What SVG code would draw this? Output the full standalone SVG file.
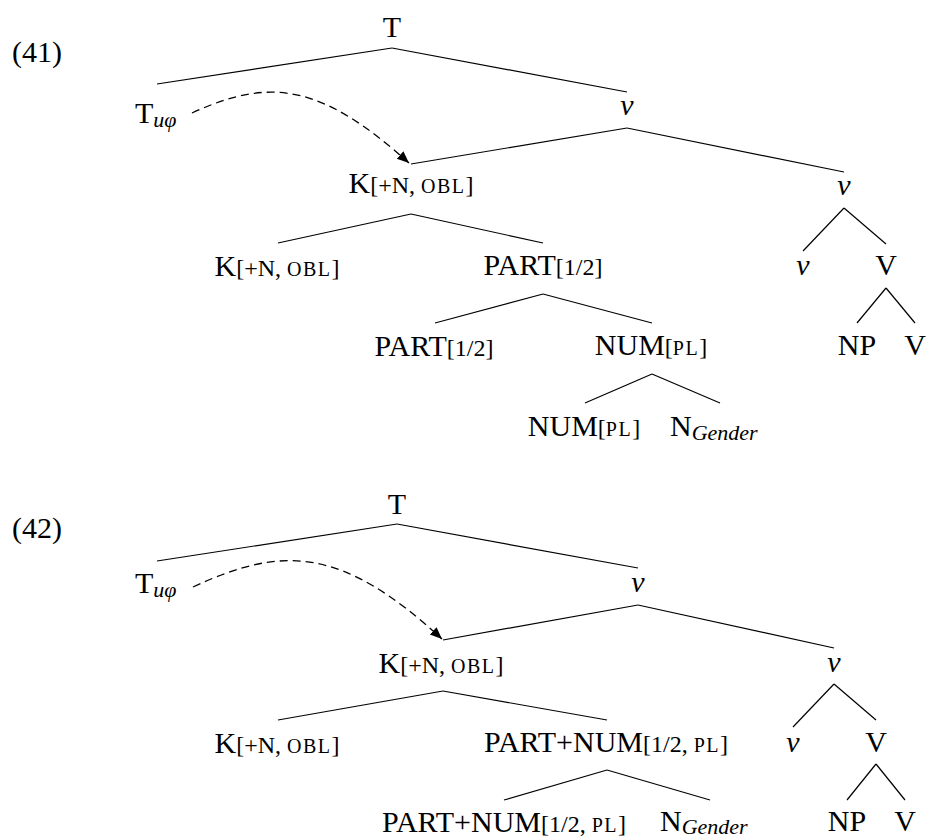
<svg xmlns="http://www.w3.org/2000/svg" width="926" height="838" viewBox="0 0 926 838" font-family="Liberation Serif">
<style>
text{font-size:30px;fill:#000}
.m{text-anchor:middle}
.i{font-style:italic}
.s{font-size:24px}
.sc{font-size:20px;letter-spacing:1.5px}
.sub{font-size:22px;font-style:italic}
.e line{stroke:#000;stroke-width:1.2;fill:none}
.arc{stroke:#000;stroke-width:1.3;fill:none;stroke-dasharray:8 5}
</style>
<defs>
<marker id="ah" markerUnits="userSpaceOnUse" markerWidth="14" markerHeight="12" refX="12" refY="5" orient="auto">
<path d="M0,0 L12,5 L0,10 Z" fill="#000"/>
</marker>
</defs>
<rect width="926" height="838" fill="#fff"/>
<g id="ex41"><text x="12" y="62" font-family="Liberation Serif">(41)</text></g>
<g id="ex42"><text x="12" y="538" font-family="Liberation Serif">(42)</text></g>

<!-- Tree 41 nodes -->
<g id="t1-T"><text class="m" x="392" y="37">T</text></g>
<g id="t1-Tu"><text x="135" y="123">T<tspan class="sub" dy="4">uφ</tspan></text></g>
<g id="t1-v1"><text class="m i" x="627" y="115">v</text></g>
<g id="t1-K"><text class="m" x="411" y="193">K<tspan class="s">[+N, </tspan><tspan class="sc">OBL</tspan><tspan class="s">]</tspan></text></g>
<g id="t1-v2"><text class="m i" x="844" y="195">v</text></g>
<g id="t1-K2"><text class="m" x="277" y="276">K<tspan class="s">[+N, </tspan><tspan class="sc">OBL</tspan><tspan class="s">]</tspan></text></g>
<g id="t1-PART"><text class="m" x="543" y="275">PART<tspan class="s">[1/2]</tspan></text></g>
<g id="t1-v3"><text class="m i" x="803" y="275">v</text></g>
<g id="t1-V"><text class="m" x="886" y="275">V</text></g>
<g id="t1-PART2"><text class="m" x="434" y="356">PART<tspan class="s">[1/2]</tspan></text></g>
<g id="t1-NUM"><text class="m" x="651" y="355">NUM<tspan class="s">[</tspan><tspan class="sc">PL</tspan><tspan class="s">]</tspan></text></g>
<g id="t1-NP"><text class="m" x="857" y="355">NP</text></g>
<g id="t1-V2"><text class="m" x="915" y="355">V</text></g>
<g id="t1-NUM2"><text class="m" x="584" y="436">NUM<tspan class="s">[</tspan><tspan class="sc">PL</tspan><tspan class="s">]</tspan></text></g>
<g id="t1-N"><text x="670" y="436">N<tspan class="sub" dy="4">Gender</tspan></text></g>

<!-- Tree 42 nodes -->
<g id="t2-T"><text class="m" x="397" y="514">T</text></g>
<g id="t2-Tu"><text x="135" y="593">T<tspan class="sub" dy="4">uφ</tspan></text></g>
<g id="t2-v1"><text class="m i" x="638" y="592">v</text></g>
<g id="t2-K"><text class="m" x="441" y="673">K<tspan class="s">[+N, </tspan><tspan class="sc">OBL</tspan><tspan class="s">]</tspan></text></g>
<g id="t2-v2"><text class="m i" x="834" y="672">v</text></g>
<g id="t2-K2"><text class="m" x="277" y="753">K<tspan class="s">[+N, </tspan><tspan class="sc">OBL</tspan><tspan class="s">]</tspan></text></g>
<g id="t2-PN"><text class="m" x="606" y="752">PART+NUM<tspan class="s">[1/2, </tspan><tspan class="sc">PL</tspan><tspan class="s">]</tspan></text></g>
<g id="t2-v3"><text class="m i" x="793" y="752">v</text></g>
<g id="t2-V"><text class="m" x="876" y="752">V</text></g>
<g id="t2-PN2"><text class="m" x="504" y="832">PART+NUM<tspan class="s">[1/2, </tspan><tspan class="sc">PL</tspan><tspan class="s">]</tspan></text></g>
<g id="t2-N"><text x="660" y="831">N<tspan class="sub" dy="3">Gender</tspan></text></g>
<g id="t2-NP"><text class="m" x="847" y="831">NP</text></g>
<g id="t2-V2"><text class="m" x="905" y="831">V</text></g>

<g id="connectors" class="e">
<line x1="392" y1="48" x2="157" y2="84"/>
<line x1="392" y1="48" x2="627" y2="92"/>
<line x1="627" y1="128" x2="411" y2="164"/>
<line x1="627" y1="128" x2="844" y2="172"/>
<line x1="411" y1="214" x2="278" y2="243"/>
<line x1="411" y1="214" x2="543" y2="243"/>
<line x1="844" y1="208" x2="803" y2="251"/>
<line x1="844" y1="208" x2="886" y2="244"/>
<line x1="543" y1="294" x2="435" y2="323"/>
<line x1="543" y1="294" x2="652" y2="323"/>
<line x1="886" y1="288" x2="857" y2="323"/>
<line x1="886" y1="288" x2="915" y2="323"/>
<line x1="652" y1="374" x2="585" y2="403"/>
<line x1="652" y1="374" x2="720" y2="403"/>

<line x1="397" y1="524" x2="157" y2="561"/>
<line x1="397" y1="524" x2="638" y2="568"/>
<line x1="638" y1="605" x2="443" y2="640"/>
<line x1="638" y1="605" x2="834" y2="648"/>
<line x1="443" y1="691" x2="278" y2="720"/>
<line x1="443" y1="691" x2="607" y2="720"/>
<line x1="834" y1="684" x2="793" y2="727"/>
<line x1="834" y1="684" x2="876" y2="720"/>
<line x1="607" y1="770" x2="504" y2="800"/>
<line x1="607" y1="770" x2="710" y2="800"/>
<line x1="876" y1="764" x2="847" y2="800"/>
<line x1="876" y1="764" x2="905" y2="800"/>

<path class="arc" d="M192,113 C270,77 321,84 409,163" marker-end="url(#ah)"/>
<path class="arc" d="M193,587 C283,545 342,547 442,639" marker-end="url(#ah)"/>
</g>
</svg>
